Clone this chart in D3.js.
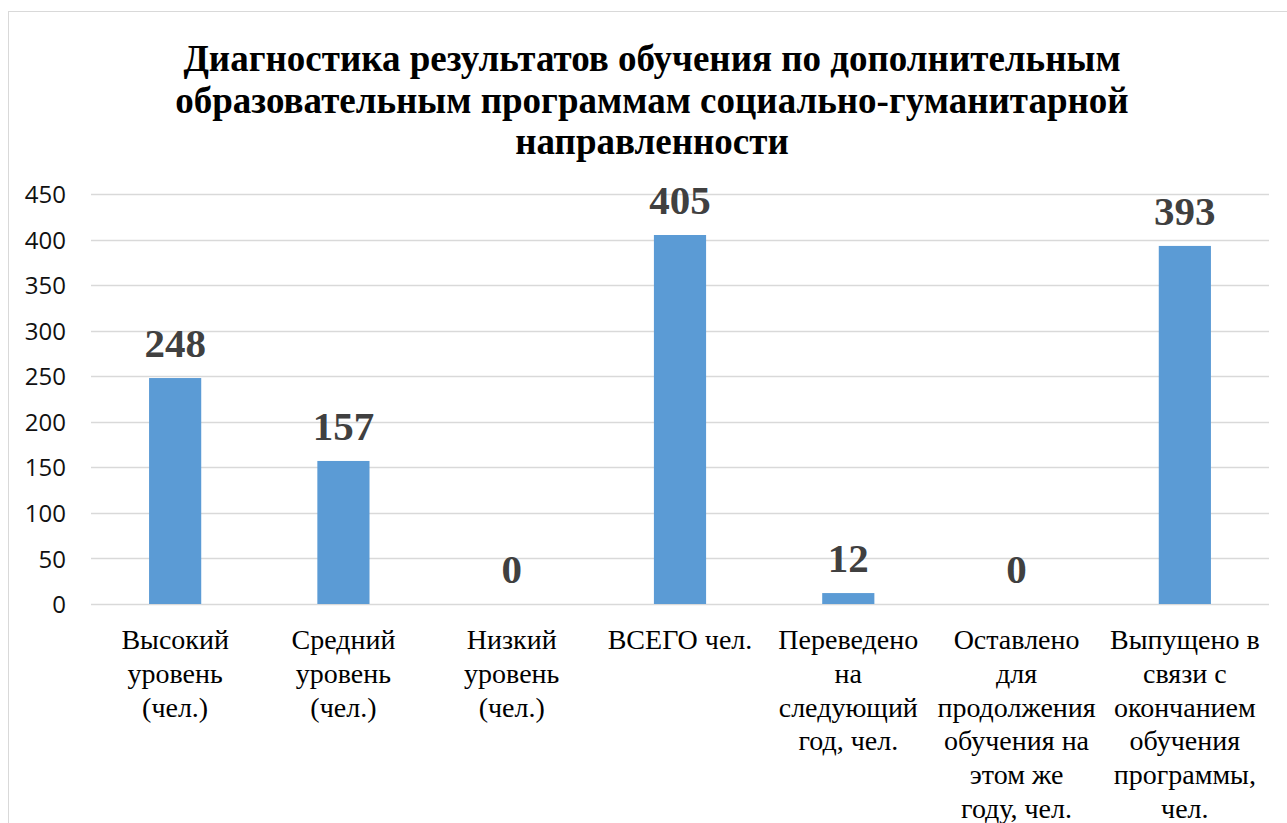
<!DOCTYPE html>
<html>
<head>
<meta charset="utf-8">
<script src="https://cdn.jsdelivr.net/npm/d3@7"></script>
<style>
  body { margin: 0; background: #fff; }
  svg { display: block; }
</style>
</head>
<body>
<svg id="chart"></svg>
<script>
// data
const categories = [
  'Высокий\nуровень\n(чел.)',
  'Средний\nуровень\n(чел.)',
  'Низкий\nуровень\n(чел.)',
  'ВСЕГО чел.',
  'Переведено\nна\nследующий\nгод, чел.',
  'Оставлено\nдля\nпродолжения\nобучения на\nэтом же\nгоду, чел.',
  'Выпущено в\nсвязи с\nокончанием\nобучения\nпрограммы,\nчел.'
];
const values = [248, 157, 0, 405, 12, 0, 393];
const yTicks = [0, 50, 100, 150, 200, 250, 300, 350, 400, 450];
const titleLines = [
  'Диагностика результатов обучения по дополнительным',
  'образовательным программам социально-гуманитарной',
  'направленности'
];

const width = 1287, height = 823;
const svg = d3.select('#chart').attr('width', width).attr('height', height);

// chart frame
svg.append('rect')
  .attr('x', 8.5).attr('y', 11.5)
  .attr('width', width + 10).attr('height', height + 10)
  .attr('fill', '#fff')
  .attr('stroke', '#d9d9d9');

const plot = {left: 91, right: 1269, top: 194, bottom: 604};

const x = d3.scaleBand()
  .domain(d3.range(categories.length))
  .range([plot.left, plot.right])
  .paddingInner(0.69).paddingOuter(0.345);

const y = d3.scaleLinear().domain([0, 450]).range([plot.bottom, plot.top]);

// title
svg.append('text')
  .attr('x', 652).attr('y', 71)
  .attr('text-anchor', 'middle')
  .style('font-family', '"Liberation Serif", "Times New Roman", serif')
  .style('font-weight', 'bold')
  .style('font-size', '37px')
  .attr('fill', '#000')
  .selectAll('tspan')
  .data(titleLines)
  .join('tspan')
    .attr('x', 652)
    .attr('dy', (d, i) => i === 0 ? 0 : 41.5)
    .text(d => d);

// gridlines
svg.append('g')
  .selectAll('line')
  .data(yTicks)
  .join('line')
    .attr('x1', plot.left).attr('x2', plot.right)
    .attr('y1', d => Math.round(y(d)) + 0.5)
    .attr('y2', d => Math.round(y(d)) + 0.5)
    .attr('stroke', '#d9d9d9')
    .attr('stroke-width', 1.5);

// y axis labels
const yAxis = svg.append('g')
  .attr('transform', `translate(${plot.left},0)`)
  .call(d3.axisLeft(y).tickValues(yTicks).tickSize(0).tickPadding(25));
yAxis.select('.domain').remove();
yAxis.selectAll('text')
  .style('font-family', '"Open Sans", "Liberation Sans", sans-serif')
  .style('font-size', '24px')
  .attr('fill', '#111')
  .attr('dy', '0.36em');

// bars
svg.append('g')
  .selectAll('rect')
  .data(values)
  .join('rect')
    .attr('x', (d, i) => x(i))
    .attr('y', d => y(d))
    .attr('width', x.bandwidth())
    .attr('height', d => y(0) - y(d))
    .attr('fill', '#5b9bd5');

// value labels
svg.append('g')
  .selectAll('text')
  .data(values)
  .join('text')
    .attr('x', (d, i) => x(i) + x.bandwidth() / 2)
    .attr('y', d => y(d) - 21)
    .attr('text-anchor', 'middle')
    .style('font-family', '"Liberation Serif", "Times New Roman", serif')
    .style('font-weight', 'bold')
    .style('font-size', '41px')
    .attr('fill', '#404040')
    .text(d => d);

// category labels
svg.append('g')
  .selectAll('text')
  .data(categories)
  .join('text')
    .attr('text-anchor', 'middle')
    .style('font-family', '"Liberation Serif", "Times New Roman", serif')
    .style('font-size', '28px')
    .attr('fill', '#000')
    .each(function (d, i) {
      const cx = x(i) + x.bandwidth() / 2;
      d3.select(this).selectAll('tspan')
        .data(d.split('\n'))
        .join('tspan')
          .attr('x', cx)
          .attr('y', (t, j) => 649 + j * 33.8)
          .text(t => t);
    });
</script>
</body>
</html>
